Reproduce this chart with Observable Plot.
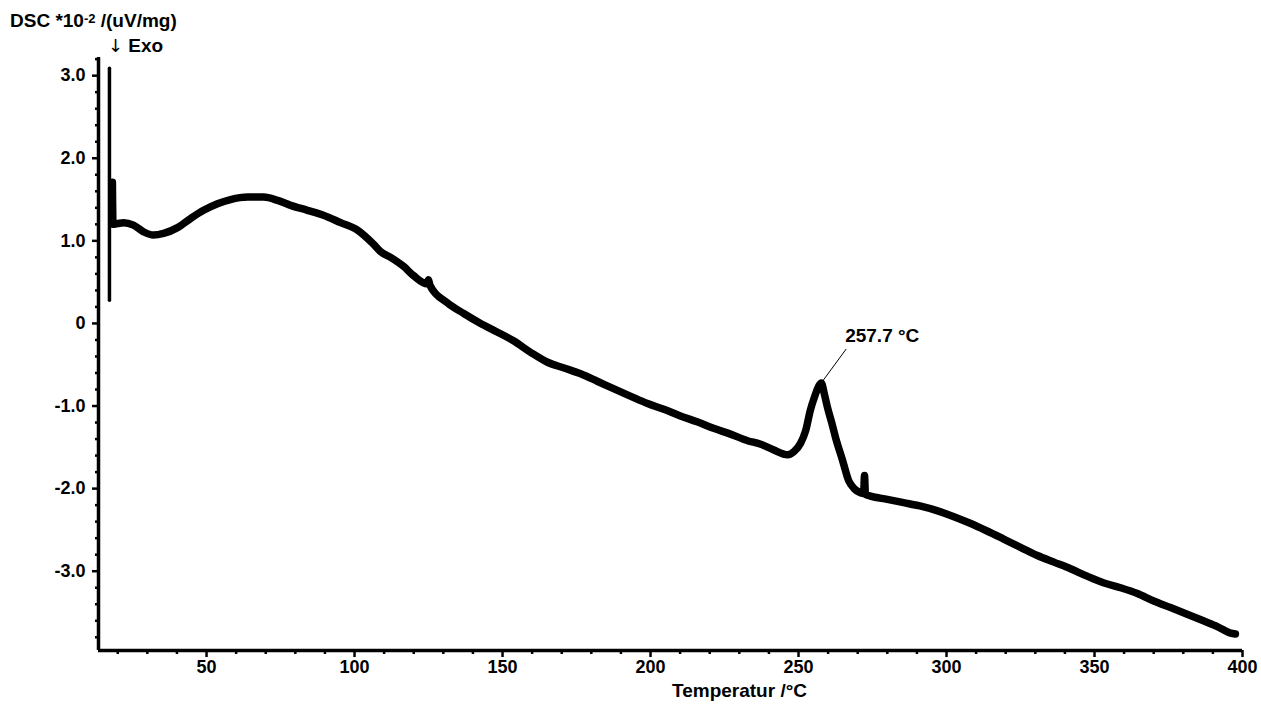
<!DOCTYPE html>
<html><head><meta charset="utf-8">
<script src="https://cdn.jsdelivr.net/npm/d3@7"></script>
<script src="https://cdn.jsdelivr.net/npm/@observablehq/plot@0.6"></script>
<style>
body{margin:0;background:#fff;}
#wrap{position:relative;width:1261px;height:704px;font-family:"Liberation Sans",Arial,sans-serif;color:#000;overflow:hidden;}
#wrap svg{position:absolute;left:0;top:0;}
.lbl{position:absolute;white-space:nowrap;font-size:19px;line-height:19px;font-weight:bold;}
#title{left:10px;top:11px;}
#exo{left:108px;top:36px;}
#exo .arr{font-family:"DejaVu Sans",sans-serif;font-weight:normal;font-size:18px;color:#000;}
#xlabel{left:672px;top:681px;}
</style>
</head><body>
<div id="wrap">
  <div class="lbl" id="title">DSC *10<span style="font-size:13px;position:relative;top:-4px">-2</span> /(uV/mg)</div>
  <div class="lbl" id="exo"><span class="arr">↓</span> Exo</div>
  <div class="lbl" id="xlabel">Temperatur /°C</div>
</div>
<script>
// Temperature (°C) and DSC signal (*10^-2 uV/mg)
const temperature = [
  18.2, 18.4, 20, 22, 25.3, 28.7, 32, 35.5, 40.2, 44.6,
  49, 53.7, 58.1, 63.9, 69.3, 74, 78.4, 84.1, 89.5, 95.3,
  101, 106.4, 108.8, 112.2, 116.6, 119.9, 124.5, 125, 125.5, 131.4,
  136.9, 142.6, 148, 153.7, 159.5, 165.2, 170.8, 176.4, 182, 187.5,
  193.2, 199, 204.5, 210.1, 215.7, 221.3, 227, 232.8, 237, 241.5,
  246.3, 248.5, 250.7, 252.4, 254, 255.5, 256.8, 257.7, 258.7, 259.8,
  261.2, 262.5, 264.9, 266.9, 268.8, 270.9, 272.0, 272.3, 272.6, 274.3,
  280, 285.5, 291, 297, 302.5, 308, 313.5, 319.3, 325, 330.7,
  336.3, 341.9, 347.5, 353, 358.8, 364.5, 370, 375.7, 381.3, 386.8,
  391.5, 396, 397.6
];
const dsc = [
  1.71, 1.20, 1.21, 1.22, 1.19, 1.11, 1.07, 1.09, 1.16, 1.27,
  1.37, 1.45, 1.50, 1.53, 1.53, 1.49, 1.43, 1.37, 1.31, 1.22,
  1.13, 0.96, 0.87, 0.80, 0.69, 0.58, 0.48, 0.53, 0.46, 0.25,
  0.12, 0.00, -0.10, -0.21, -0.35, -0.47, -0.54, -0.61, -0.70, -0.79,
  -0.88, -0.97, -1.04, -1.12, -1.19, -1.27, -1.34, -1.42, -1.46, -1.53,
  -1.59, -1.55, -1.45, -1.30, -1.05, -0.88, -0.76, -0.72, -0.85, -1.02,
  -1.20, -1.38, -1.66, -1.90, -2.00, -2.05, -2.06, -1.84, -2.07, -2.09,
  -2.13, -2.17, -2.21, -2.27, -2.34, -2.42, -2.51, -2.61, -2.71, -2.81,
  -2.89, -2.97, -3.06, -3.14, -3.20, -3.27, -3.36, -3.44, -3.52, -3.60,
  -3.67, -3.75, -3.76
];
// initial switching spike
const spikeTemperature = [17.2, 17.2];
const spikeDsc = [3.09, 0.28];

// peak annotation
const peakLabel = "257.7 °C";
const peakTemperature = 257.7;
const peakDsc = -0.72;

// axes
const xDomain = [13.5, 400];
const yDomain = [-3.96, 3.22];
const xMajorTicks = [50, 100, 150, 200, 250, 300, 350, 400];
const xMinorTicks = [20, 30, 40, 60, 70, 80, 90, 110, 120, 130, 140, 160, 170, 180, 190, 210, 220, 230, 240, 260, 270, 280, 290, 310, 320, 330, 340, 360, 370, 380, 390];
const yMajorTicks = [3, 2, 1, 0, -1, -2, -3];
const yMinorTicks = [3.2, 2.8, 2.6, 2.4, 2.2, 1.8, 1.6, 1.4, 1.2, 0.8, 0.6, 0.4, 0.2, -0.2, -0.4, -0.6, -0.8, -1.2, -1.4, -1.6, -1.8, -2.2, -2.4, -2.6, -2.8, -3.2, -3.4, -3.6, -3.8];
const yTickLabels = ["3.0", "2.0", "1.0", "0", "-1.0", "-2.0", "-3.0"];

const curve = temperature.map((t, i) => ({t, v: dsc[i]}));
const spike = spikeTemperature.map((t, i) => ({t, v: spikeDsc[i]}));
const peak = [{t: peakTemperature, v: peakDsc, t2: peakTemperature + 8.4, v2: peakDsc + 0.41, label: peakLabel}];

const chart = Plot.plot({
  width: 1261,
  height: 704,
  marginLeft: 98,
  marginRight: 19,
  marginTop: 57,
  marginBottom: 54,
  x: {domain: xDomain},
  y: {domain: yDomain},
  style: {fontFamily: "'Liberation Sans', Arial, sans-serif", fontSize: "18px", fontWeight: "bold", color: "#000", background: "transparent"},
  marks: [
    Plot.axisY(yMinorTicks, {tickSize: 3, tickFormat: () => "", label: null, strokeWidth: 2.5}),
    Plot.axisY(yMajorTicks, {tickSize: 6, tickPadding: 7, tickFormat: (d) => yTickLabels[yMajorTicks.indexOf(d)], label: null, strokeWidth: 2.5, fontSize: 18}),
    Plot.axisX(xMinorTicks, {tickSize: 4, tickFormat: () => "", label: null, strokeWidth: 2.5}),
    Plot.axisX(xMajorTicks, {tickSize: 7, tickPadding: 3, label: null, strokeWidth: 2.5, fontSize: 18}),
    Plot.ruleX([xDomain[0]], {stroke: "#000", strokeWidth: 3.5}),
    Plot.ruleY([yDomain[0]], {stroke: "#000", strokeWidth: 3.5}),
    Plot.line(spike, {x: "t", y: "v", stroke: "#000", strokeWidth: 3.5}),
    Plot.line(curve, {x: "t", y: "v", curve: "monotone-x", stroke: "#000", strokeWidth: 7.5, strokeLinejoin: "round", strokeLinecap: "round"}),
    Plot.link(peak, {x1: "t", y1: "v", x2: "t2", y2: "v2", stroke: "#000", strokeWidth: 1}),
    Plot.text(peak, {x: "t2", y: "v2", text: "label", textAnchor: "start", dy: -13, dx: -1, fontSize: 19, fontWeight: "bold", fill: "#000"})
  ]
});
document.getElementById("wrap").prepend(chart);
</script>
</body></html>
